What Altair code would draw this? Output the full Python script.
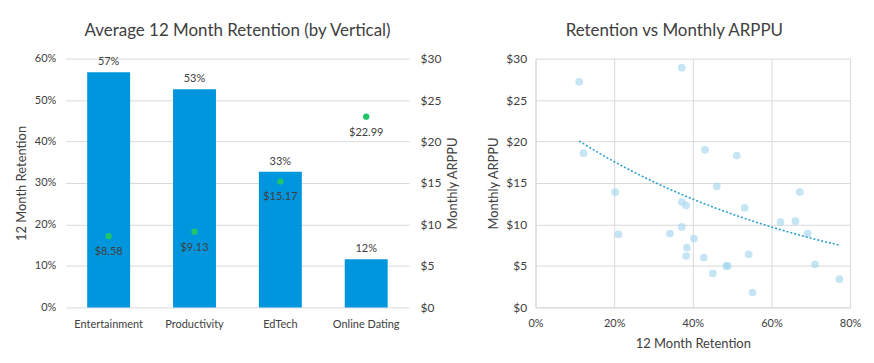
import altair as alt
import pandas as pd

# ---- data ----
verticals = ["Entertainment", "Productivity", "EdTech", "Online Dating"]
avg_retention = [0.567, 0.526, 0.327, 0.116]
avg_arppu = [8.58, 9.13, 15.17, 22.99]

app_retention = [0.111, 0.372, 0.122, 0.431, 0.512, 0.461, 0.203, 0.672, 0.372, 0.383,
                 0.532, 0.623, 0.661, 0.372, 0.342, 0.211, 0.692, 0.403, 0.385, 0.383,
                 0.428, 0.542, 0.485, 0.489, 0.711, 0.451, 0.773, 0.552]
app_arppu = [27.2, 28.9, 18.6, 19.0, 18.3, 14.6, 13.9, 13.9, 12.7, 12.3,
             12.0, 10.3, 10.4, 9.7, 8.9, 8.8, 8.9, 8.3, 7.2, 6.2,
             6.0, 6.4, 5.0, 5.0, 5.2, 4.1, 3.4, 1.8]

BLUE = "#0096DD"
GREEN = "#22C46A"
TEXT = "#404040"
GRID = "#D9D9D9"
FONT = "Lato"

df_left = pd.DataFrame({"vertical": verticals, "retention": avg_retention, "arppu": avg_arppu})
df_sc = pd.DataFrame({"ret": app_retention, "arppu": app_arppu})

x_left = alt.X("vertical:N", sort=verticals, title=None,
               scale=alt.Scale(paddingInner=0.5, paddingOuter=0.25),
               axis=alt.Axis(labelAngle=0, domain=False, ticks=False, labelPadding=11))

base = alt.Chart(df_left).encode(x=x_left)

bars = base.mark_bar(color=BLUE).encode(
    y=alt.Y("retention:Q", scale=alt.Scale(domain=[0, 0.6]),
            axis=alt.Axis(format=".0%", values=[0, 0.1, 0.2, 0.3, 0.4, 0.5, 0.6],
                          title="12 Month Retention", domain=False, ticks=False,
                          labelPadding=10, titlePadding=6, gridColor=GRID))
)
bar_text = base.mark_text(dy=-10, fontSize=11, color=TEXT, font=FONT).encode(
    y="retention:Q", text=alt.Text("retention:Q", format=".0%"))

dots = base.mark_circle(color=GREEN, size=40, opacity=1).encode(
    y=alt.Y("arppu:Q", scale=alt.Scale(domain=[0, 30]),
            axis=alt.Axis(orient="right", format="$d", values=[0, 5, 10, 15, 20, 25, 30],
                          title="Monthly ARPPU", titleAngle=270, titleBaseline="top",
                          grid=False, domain=False, ticks=False, labelPadding=11,
                          titlePadding=6, labelFontSize=12))
)
dot_text = base.mark_text(dy=16, fontSize=11, color=TEXT, font=FONT).encode(
    y="arppu:Q", text=alt.Text("arppu:Q", format="$.2f"))

left = alt.layer(alt.layer(bars, bar_text), alt.layer(dots, dot_text)).resolve_scale(
    y="independent"
).properties(
    width=345, height=250,
    title=alt.Title("Average 12 Month Retention (by Vertical)", fontSize=17, fontWeight="normal",
                    color=TEXT, font=FONT, anchor="middle", frame="bounds", offset=13),
)

points = alt.Chart(df_sc).mark_circle(size=60, color="#9FD4EF", opacity=0.6).encode(
    x=alt.X("ret:Q", scale=alt.Scale(domain=[0, 0.8]),
            axis=alt.Axis(format=".0%", values=[0, 0.2, 0.4, 0.6, 0.8], title="12 Month Retention",
                          ticks=False, domainColor=GRID, gridColor=GRID, labelPadding=10,
                          titlePadding=9, labelFlush=False)),
    y=alt.Y("arppu:Q", scale=alt.Scale(domain=[0, 30]),
            axis=alt.Axis(format="$d", values=[0, 5, 10, 15, 20, 25, 30], title="Monthly ARPPU",
                          ticks=False, domainColor=GRID, gridColor=GRID, labelPadding=9,
                          titlePadding=5, labelFlush=False, labelFontSize=12)),
)
trend = alt.Chart(df_sc).transform_regression("ret", "arppu", method="exp").mark_line(
    color="#2A9FD0", strokeDash=[2, 2], strokeWidth=1.6
).encode(x="ret:Q", y="arppu:Q")

right = alt.layer(points, trend).properties(
    width=316, height=250,
    title=alt.Title("Retention vs Monthly ARPPU", fontSize=17, fontWeight="normal",
                    color=TEXT, font=FONT, anchor="middle", frame="bounds", offset=13),
)

chart = alt.hconcat(left, right, spacing=28).properties(
    padding={"left": 7, "top": 13, "right": 5, "bottom": 5}
).configure_view(stroke=None).configure_axis(
    labelFont=FONT, titleFont=FONT, labelColor=TEXT, titleColor=TEXT,
    labelFontSize=11, titleFontSize=13, titleFontWeight="normal", labelFlush=False
)

chart.save("out.html", embed_options={"renderer": "svg", "actions": False})
